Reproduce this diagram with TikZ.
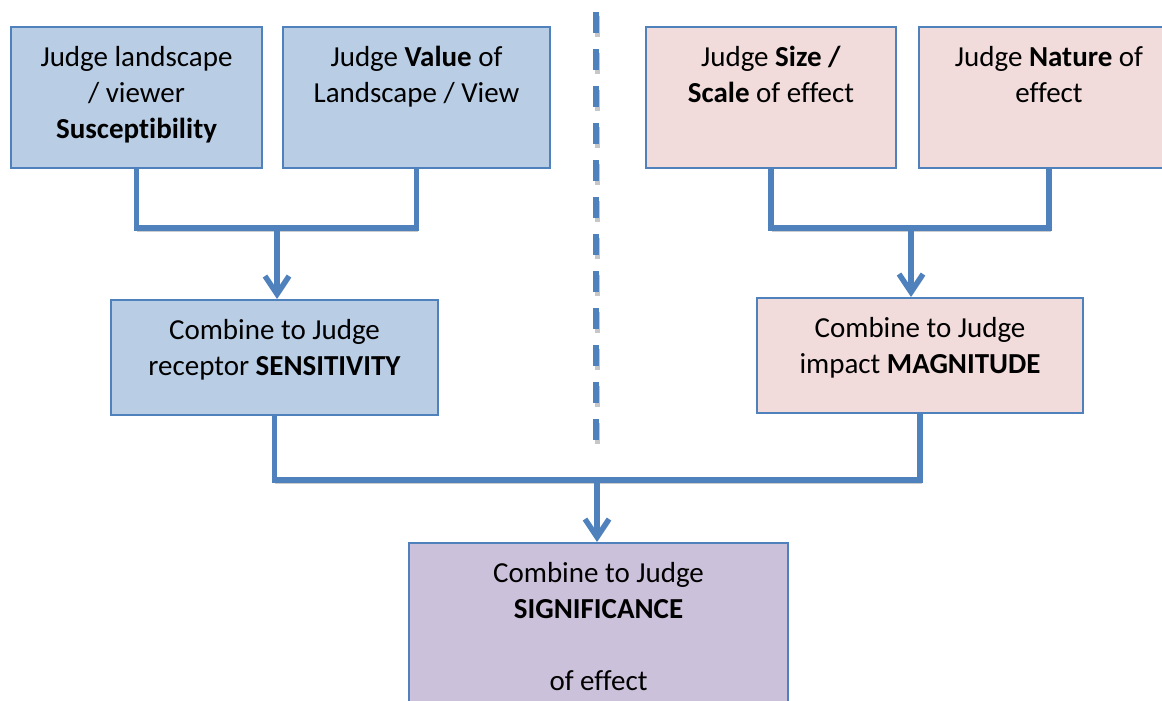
\documentclass[tikz,border=0pt]{standalone}
\usepackage{fontspec}
\setmainfont{Carlito}[Ligatures=NoCommon]
\usetikzlibrary{arrows.meta}
\definecolor{linkblue}{RGB}{79,129,189}
\definecolor{sensfill}{RGB}{185,205,229}
\definecolor{magnfill}{RGB}{242,220,219}
\definecolor{signfill}{RGB}{204,193,218}

\begin{document}
\begin{tikzpicture}[x=0.02cm,y=-0.02cm,
	box/.style={draw=linkblue, line width=1.2pt, inner sep=0pt},
	txt/.style={anchor=north, align=center, inner sep=0pt, yshift=-0.4cm,
		font=\fontsize{16.5pt}{20.5pt}\selectfont},
	conn/.style={draw=linkblue, line width=3.1pt,
		preaction={draw=black!20, transform canvas={xshift=0.6pt,yshift=-1.8pt}}},
	tip/.style={-{Straight Barb[length=0.36cm,width=0.48cm]}}]
		\useasboundingbox (0,0) rectangle (1162,700);
		% left side: receptor
		\node[box, fill=sensfill, minimum width=5.02cm, minimum height=2.82cm,
			label={[txt]north:Judge landscape\\ / viewer\\ \textbf{Susceptibility}}] (susc) at (136.5,97.5) {};
		\node[box, fill=sensfill, minimum width=5.34cm, minimum height=2.82cm,
			label={[txt]north:Judge \textbf{Value} of\\ Landscape / View}] (valu) at (416.5,97.5) {};
		\node[box, fill=sensfill, minimum width=6.54cm, minimum height=2.3cm,
			label={[txt]north:Combine to Judge\\ receptor \textbf{SENSITIVITY}}] (sens) at (274.5,357.5) {};
		% right side: effect
		\node[box, fill=magnfill, minimum width=5cm, minimum height=2.82cm,
			label={[txt]north:Judge \textbf{Size /}\\ \textbf{Scale} of effect}] (size) at (771,97.5) {};
		\node[box, fill=magnfill, minimum width=5.2cm, minimum height=2.82cm,
			label={[txt]north:Judge \textbf{Nature} of\\ effect}] (natu) at (1049,97.5) {};
		\node[box, fill=magnfill, minimum width=6.52cm, minimum height=2.3cm,
			label={[txt]north:Combine to Judge\\ impact \textbf{MAGNITUDE}}] (magn) at (920,355.5) {};
		% result
		\node[box, fill=signfill, minimum width=7.58cm, minimum height=3.6cm,
			label={[txt]north:Combine to Judge\\ \textbf{SIGNIFICANCE}\\ ~\\ of effect}] (sign) at (598.5,633) {};
		% divider
		\coordinate (dtop) at (596,12);
		\coordinate (dbot) at (596,445);
		\draw[draw=black!22, line width=2.9pt, dash pattern=on 0.42cm off 0.32cm,
			transform canvas={xshift=0.6pt,yshift=-2.2pt}] (dtop) -- (dbot);
		\draw[draw=linkblue, line width=2.9pt, dash pattern=on 0.42cm off 0.32cm] (dtop) -- (dbot);
		% connectors
		\coordinate (jl) at (277,228);
		\coordinate (jr) at (911,228);
		\coordinate (jb) at (597,480);
		\draw[conn] (susc.south) |- (jl) -| (valu.south);
		\draw[conn, tip] (jl) -- (jl |- sens.north);
		\draw[conn] (size.south) |- (jr) -| (natu.south);
		\draw[conn, tip] (jr) -- (jr |- magn.north);
		\draw[conn] (sens.south) |- (jb) -| (magn.south);
		\draw[conn, tip] (jb) -- (jb |- sign.north);
	\end{tikzpicture}
\end{document}
